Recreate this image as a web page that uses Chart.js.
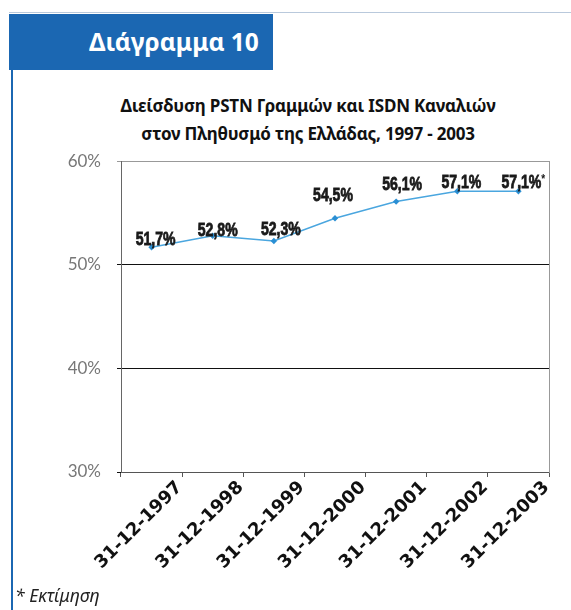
<!DOCTYPE html>
<html>
<head>
<meta charset="utf-8">
<script src="https://cdn.jsdelivr.net/npm/chart.js@4"></script>
<style>
 body{margin:0;background:#fff;width:571px;height:610px;overflow:hidden;position:relative;font-family:"Noto Sans",sans-serif}
 #topline{position:absolute;left:9px;top:12px;width:562px;height:1px;background:#b9c9dc}
 #head{position:absolute;left:9px;top:14px;width:264px;height:56px;background:#1b67b2;color:#fff;font-weight:bold;font-size:24.5px;line-height:56px}
 #head span{position:absolute;left:80px;top:0}
 #side{position:absolute;left:11px;top:14px;width:2px;height:596px;background:#1b67b2}
 #title{position:absolute;left:60px;top:92px;width:496px;text-align:center;font-weight:bold;font-size:17px;line-height:28px;color:#111;letter-spacing:-0.2px}
 #note{position:absolute;left:15px;top:583px;font-style:italic;font-size:17.5px;color:#222}
 #wrap{position:absolute;left:0;top:135px;width:571px;height:475px}
</style>
</head>
<body>
<div id="topline"></div>
<div id="head"><span>Διάγραμμα 10</span></div>
<div id="side"></div>
<div id="title">Διείσδυση PSTN Γραμμών και ISDN Καναλιών<br>στον Πληθυσμό της Ελλάδας, 1997 - 2003</div>
<div id="wrap"><canvas id="c"></canvas></div>
<div id="note">* Εκτίμηση</div>
<script>
const dates = ["31-12-1997","31-12-1998","31-12-1999","31-12-2000","31-12-2001","31-12-2002","31-12-2003"]
const penetration = [51.7, 52.8, 52.3, 54.5, 56.1, 57.1, 57.1]
const notes = ["","","","","","","*"]
const yTicks = [30, 40, 50, 60]

// label nudges (dx, dy of baseline) to sit like the original
const labelShift = [[4,-2],[5,0],[7,-6],[-2,-17],[6,-12],[4,-3],[3,-3]]

const valueLabels = {
 id:"valueLabels",
 afterDatasetsDraw(chart){
  const ctx = chart.ctx
  const meta = chart.getDatasetMeta(0)
  meta.data.forEach((p,i)=>{
   const txt = penetration[i].toFixed(1).replace(".",",") + "%"
   ctx.save()
   ctx.fillStyle = "#1a1a1a"
   ctx.strokeStyle = "#1a1a1a"
   ctx.lineWidth = 0.8
   ctx.textBaseline = "alphabetic"
   ctx.translate(p.x + labelShift[i][0], p.y + labelShift[i][1])
   ctx.scale(0.78, 1)
   ctx.font = "bold 18px 'Liberation Sans', sans-serif"
   ctx.textAlign = "center"
   ctx.fillText(txt, 0, 0)
   ctx.strokeText(txt, 0, 0)
   if(notes[i]){
    const w = ctx.measureText(txt).width
    ctx.font = "bold 13px 'Liberation Sans', sans-serif"
    ctx.textAlign = "left"
    ctx.fillText(notes[i], w/2, -5)
   }
   ctx.restore()
  })
 }
}

new Chart(document.getElementById("c"),{
 type:"line",
 data:{
  labels:dates,
  datasets:[{
   data:penetration,
   borderColor:"#4aa6df",
   borderWidth:1.5,
   backgroundColor:"#2a8fd4",
   pointStyle:"rectRot",
   pointRadius:3.2,
   pointBorderWidth:0,
   tension:0
  }]
 },
 options:{
  responsive:true,
  maintainAspectRatio:false,
  animation:false,
  layout:{padding:{top:10,left:0,right:0,bottom:0}},
  plugins:{legend:{display:false},tooltip:{enabled:false}},
  scales:{
   x:{
    offset:true,
    afterFit(s){ s.height = 138 },
    grid:{offset:true,drawOnChartArea:false,drawTicks:true,tickLength:5,color:"#555"},
    border:{color:"#555",width:1},
    ticks:{
     minRotation:45,maxRotation:45,
     color:"#111",
     font:{family:"DejaVu Sans",weight:"bold",size:18},
     padding:0,
     labelOffset:28
    }
   },
   y:{
    min:30,max:60,
    afterFit(s){ s.width = 121 },
    afterBuildTicks(s){ s.ticks = yTicks.map(v=>({value:v})) },
    grid:{
     color:ctx=> ctx.tick && ctx.tick.value === 60 ? "#999" : "#111",
     lineWidth:1,
     tickLength:4
    },
    border:{color:"#666"},
    ticks:{
     callback:v=>v+"%",
     color:"#777",
     font:{family:"Lato",size:17},
     padding:16
    }
   },
   y2:{
    position:"right",
    min:30,max:60,
    afterFit(s){ s.width = 22 },
    grid:{drawOnChartArea:false,drawTicks:false},
    border:{color:"#999"},
    ticks:{display:false}
   }
  }
 },
 plugins:[valueLabels]
})
</script>
</body>
</html>
